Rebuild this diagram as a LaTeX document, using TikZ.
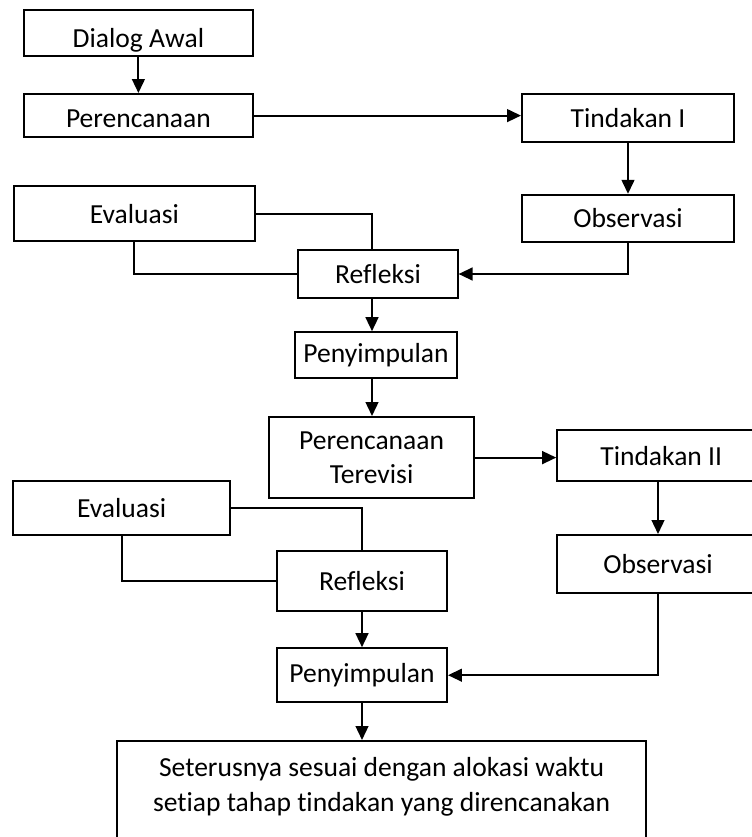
\documentclass[tikz,border=0pt]{standalone}
\usepackage{fontspec}
\setmainfont{Carlito}[Ligatures=NoCommon]
\usetikzlibrary{arrows.meta, positioning, calc}

\begin{document}
\begin{tikzpicture}[
    font=\fontsize{19.6}{24.5}\selectfont,
    stage/.style={
        draw=black,                % plain black frame
        line width=1.4pt,
        inner sep=0pt,
        align=center
    },
    capline/.style={
        text height=#1,            % moves the one-line text down in its box
        text depth=0pt
    },
    link/.style={
        line width=1.4pt,
        draw=black
    },
    flow/.style={
        link,
        -{Triangle[length=3.5mm, width=3.2mm]}
    }
]

    % --- 0. Frame of the picture ---
    \useasboundingbox (0,0) rectangle (18.8,-20.925);
    \clip (0,0) rectangle (18.8,-20.925);

    % --- 1. First cycle ---
    \node[stage, capline=0.72cm, minimum width=5.73cm, minimum height=1.15cm] (dialog) at (3.46,-0.83) {Dialog Awal};
    \node[stage, capline=0.60cm, minimum width=5.73cm, minimum height=1.08cm] (plan) at (3.46,-2.89) {Perencanaan};
    \node[stage, minimum width=5.30cm, minimum height=1.20cm] (act1) at (15.70,-2.95) {Tindakan I};
    \node[stage, minimum width=5.30cm, minimum height=1.18cm] (obs1) at (15.70,-5.46) {Observasi};
    \node[stage, minimum width=6.03cm, minimum height=1.38cm] (eval1) at (3.36,-5.34) {Evaluasi};
    \node[stage, minimum width=3.98cm, minimum height=1.20cm] (refl1) at (9.45,-6.85) {Refleksi};
    \node[stage, minimum width=4.05cm, minimum height=1.15cm] (concl1) at (9.40,-8.88) {Penyimpulan};
    \node[stage, minimum width=5.13cm, minimum height=2.03cm] (replan) at (9.29,-11.44) {Perencanaan\\Terevisi};

    % --- 2. Second cycle ---
    \node[stage, minimum width=5.20cm, minimum height=1.28cm] (act2) at (16.53,-11.39) {Tindakan II};
    \node[stage, minimum width=5.05cm, minimum height=1.45cm] (obs2) at (16.45,-14.10) {Observasi};
    \node[stage, minimum width=5.43cm, minimum height=1.35cm] (eval2) at (3.04,-12.70) {Evaluasi};
    \node[stage, minimum width=4.25cm, minimum height=1.50cm] (refl2) at (9.05,-14.53) {Refleksi};
    \node[stage, minimum width=4.25cm, minimum height=1.35cm] (concl2) at (9.05,-16.88) {Penyimpulan};

    % last box runs off the bottom edge
    \node[stage, anchor=north, minimum width=13.23cm, inner ysep=12pt, text depth=2cm] (next) at (9.54,-18.50)
        {Seterusnya sesuai dengan alokasi waktu\\setiap tahap tindakan yang direncanakan};

    % column of the middle arrows
    \coordinate (axis) at (9.30,0);

    % --- 3. Connectors ---
    \draw[flow] (dialog) -- (plan);
    \draw[flow] (plan.east) -- (plan.east -| act1.west);
    \draw[flow] (act1) -- (obs1);
    \draw[flow] (obs1.south) |- (refl1.east);
    \draw[link] (eval1.east) -| (axis |- refl1.north);
    \draw[link] (eval1.south) |- (refl1.west);
    \draw[flow] (axis |- refl1.south) -- (axis |- concl1.north);
    \draw[flow] (axis |- concl1.south) -- (axis |- replan.north);
    \draw[flow] (replan.east) -- (replan.east -| act2.west);
    \draw[flow] (obs2.north |- act2.south) -- (obs2.north);
    \draw[flow] (obs2.south) |- (concl2.east);
    \draw[link] (eval2.east) -| (refl2.north);
    \draw[link] (eval2.south) |- (refl2.west);
    \draw[flow] (refl2) -- (concl2);
    \draw[flow] (concl2.south) -- (concl2.south |- next.north);

\end{tikzpicture}
\end{document}
